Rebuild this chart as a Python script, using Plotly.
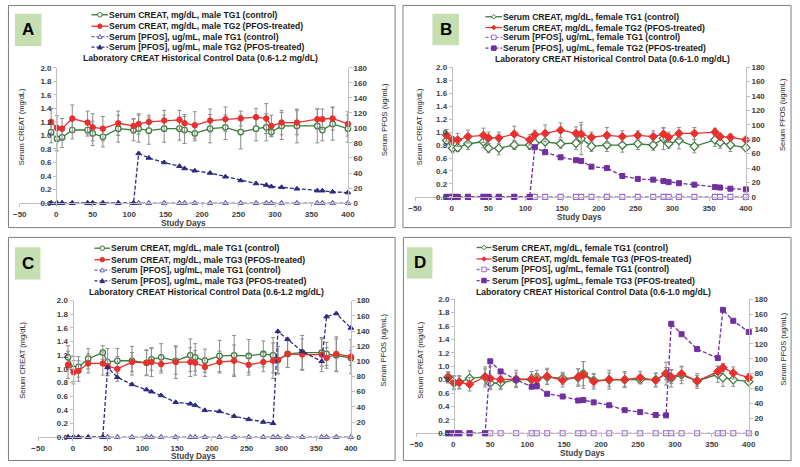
import plotly.graph_objects as go

W, H = 800, 467

days = [-7, 1, 8, 22, 43, 50, 64, 85, 106, 113, 127, 148, 169, 176, 190,
        211, 232, 253, 274, 288, 295, 309, 330, 358, 365, 379, 400]

# ---------------- Panel A (male TG1 vs TG2) ----------------
a_creat_ctrl = [1.05, 0.95, 0.97, 1.08, 1.08, 1.03, 0.98, 1.10, 1.08, 1.10, 1.07, 1.10, 1.10, 1.08, 1.03,
                1.10, 1.12, 1.05, 1.10, 1.12, 1.05, 1.14, 1.14, 1.14, 1.08, 1.17, 1.10]
a_creat_trt = [1.20, 1.11, 1.10, 1.25, 1.19, 1.12, 1.10, 1.18, 1.14, 1.17, 1.20, 1.22, 1.23, 1.18, 1.15,
               1.22, 1.24, 1.25, 1.27, 1.25, 1.14, 1.19, 1.19, 1.24, 1.24, 1.25, 1.17]
a_err_ctrl = [0.16, 0.18, 0.15, 0.13, 0.09, 0.18, 0.15, 0.20, 0.16, 0.20, 0.20, 0.20, 0.17, 0.20, 0.11,
              0.21, 0.18, 0.25, 0.18, 0.20, 0.06, 0.20, 0.25, 0.25, 0.16, 0.24, 0.20]
a_err_trt = [0.20, 0.18, 0.15, 0.20, 0.17, 0.20, 0.18, 0.18, 0.11, 0.15, 0.10, 0.15, 0.14, 0.13, 0.20,
             0.17, 0.18, 0.11, 0.13, 0.22, 0.16, 0.18, 0.18, 0.15, 0.15, 0.17, 0.18]
a_pfos_ctrl = [0, 0, 0, 0, 0, 0, 0, 0, 0, 0, 0, 0, 0, 0, 0, 0, 0, 0, 0, 0, 0, 0, 0, 0, 0, 0, 0]
a_pfos_trt = [0, 0, 0, 0, 0, 0, 0, 0, 0, 66, 60, 54, 49, 46, 43, 40, 35, 30, 26, 24, 22, 21, 19,
              16.5, 16.5, 15, 14]

# ---------------- Panel B (female TG1 vs TG2) ----------------
b_creat_ctrl = [0.87, 0.75, 0.76, 0.82, 0.85, 0.75, 0.75, 0.80, 0.80, 0.83, 0.85, 0.82, 0.83, 0.90, 0.78,
                0.80, 0.80, 0.82, 0.80, 0.90, 0.82, 0.87, 0.78, 0.88, 0.84, 0.80, 0.76]
b_creat_trt = [0.95, 0.88, 0.88, 0.93, 0.95, 0.91, 0.91, 0.97, 0.88, 0.96, 0.98, 1.03, 0.98, 0.97, 0.92,
               0.95, 0.93, 0.95, 0.93, 0.97, 0.92, 0.98, 0.98, 1.00, 0.93, 0.92, 0.88]
b_err_ctrl = [0.07, 0.07, 0.06, 0.09, 0.09, 0.07, 0.10, 0.07, 0.07, 0.07, 0.12, 0.07, 0.10, 0.25, 0.08,
              0.10, 0.11, 0.09, 0.08, 0.17, 0.07, 0.13, 0.10, 0.10, 0.09, 0.10, 0.03]
b_err_trt = [0.09, 0.05, 0.10, 0.10, 0.11, 0.09, 0.09, 0.12, 0.08, 0.07, 0.13, 0.11, 0.10, 0.14, 0.08,
             0.12, 0.09, 0.07, 0.09, 0.09, 0.08, 0.09, 0.09, 0.06, 0.05, 0.05, 0.03]
b_pfos_ctrl = [0, 0, 0, 0, 0, 0, 0, 0, 0, 0, 0, 0, 0, 0, 0, 0, 0, 0, 0, 0, 0, 0, 0, 0, 0, 0, 0]
b_pfos_trt = [0, 0, 0, 0, 0, 0, 0, 0, 0, 69, 62, 55, 51, 50, 42, 40, 29, 25, 24, 22, 20.5, 19, 17,
              13.6, 13, 11.4, 10.5]

# ---------------- Panel C (male TG1 vs TG3) ----------------
c_creat_ctrl = [1.17, 1.00, 1.03, 1.15, 1.24, 1.10, 1.12, 1.12, 1.09, 1.14, 1.17, 1.12, 1.20, 1.17, 1.12,
                1.19, 1.20, 1.19, 1.22, 1.20, 1.13, 1.22, 1.24, 1.24, 1.22, 1.20, 1.16]
c_creat_trt = [1.06, 0.95, 0.97, 1.08, 1.08, 1.04, 1.00, 1.10, 1.09, 1.10, 1.07, 1.10, 1.10, 1.09, 1.03,
               1.10, 1.12, 1.06, 1.10, 1.12, 1.13, 1.22, 1.21, 1.21, 1.16, 1.22, 1.18]
c_err_ctrl = [0.17, 0.18, 0.15, 0.15, 0.10, 0.20, 0.18, 0.21, 0.19, 0.16, 0.20, 0.20, 0.24, 0.20, 0.17,
              0.23, 0.29, 0.24, 0.19, 0.26, 0.20, 0.20, 0.25, 0.20, 0.17, 0.24, 0.11]
c_err_trt = [0.20, 0.17, 0.15, 0.14, 0.17, 0.10, 0.18, 0.14, 0.18, 0.21, 0.13, 0.24, 0.21, 0.18, 0.14,
             0.16, 0.23, 0.15, 0.14, 0.26, 0.20, 0.20, 0.23, 0.25, 0.15, 0.25, 0.25]
c_pfos_ctrl = [0, 0, 0, 0, 0, 0, 0, 0, 0, 0, 0, 0, 0, 0, 0, 0, 0, 0, 0, 0, 0, 0, 0, 0, 0, 0, 0]
c_pfos_trt = [0, 0, 0, 0, 0, 92, 79, 69.5, 62.7, 60, 55, 46, 44, 42, 35.4, 34, 27.7, 23.5, 20, 18.3,
              139.5, 129, 113, 100, 159, 163, 144]

# ---------------- Panel D (female TG1 vs TG3) ----------------
d_creat_ctrl = [0.84, 0.75, 0.76, 0.82, 0.84, 0.75, 0.75, 0.80, 0.80, 0.83, 0.84, 0.82, 0.83, 0.89, 0.79,
                0.80, 0.80, 0.80, 0.80, 0.89, 0.82, 0.87, 0.78, 0.88, 0.83, 0.80, 0.77]
d_creat_trt = [0.83, 0.76, 0.76, 0.73, 0.84, 0.82, 0.80, 0.81, 0.81, 0.80, 0.85, 0.79, 0.84, 0.87, 0.77,
               0.80, 0.80, 0.83, 0.79, 0.89, 0.84, 0.89, 0.78, 0.92, 0.98, 0.90, 0.83]
d_err_ctrl = [0.08, 0.10, 0.09, 0.11, 0.12, 0.08, 0.10, 0.10, 0.08, 0.06, 0.11, 0.09, 0.13, 0.18, 0.10,
              0.10, 0.10, 0.06, 0.10, 0.09, 0.13, 0.13, 0.08, 0.12, 0.13, 0.10, 0.03]
d_err_trt = [0.08, 0.10, 0.10, 0.10, 0.15, 0.17, 0.13, 0.13, 0.11, 0.14, 0.12, 0.10, 0.12, 0.20, 0.11,
             0.14, 0.12, 0.09, 0.10, 0.17, 0.10, 0.10, 0.11, 0.08, 0.06, 0.09, 0.06]
d_pfos_ctrl = [0, 0, 0, 0, 0, 0, 0, 0, 0, 0, 0, 0, 0, 0, 0, 0, 0, 0, 0, 0, 0, 0, 0, 0, 0, 0, 0]
d_pfos_trt = [0, 0, 0, 0, 0, 96.6, 83, 72, 62.5, 63.4, 53, 49.4, 44, 44.6, 41.5, 37.6, 31, 28.4, 24.5,
              24, 147, 133, 113, 101, 165.7, 151, 136]

x_ticks = [-50, 0, 50, 100, 150, 200, 250, 300, 350, 400]
creat_ticks = [0.0, 0.2, 0.4, 0.6, 0.8, 1.0, 1.2, 1.4, 1.6, 1.8, 2.0]
pfos_ticks = [0, 20, 40, 60, 80, 100, 120, 140, 160, 180]

FONT = "Liberation Sans"
GREEN = "#3B7A3B"
RED = "#E8312F"
GRAY_AX = "#BFBFBF"
TICKC = "#404040"
ERRC = "#8C8C8C"


def fx(p):
    return p / W


def fy(p):
    return 1 - p / H


panels = [
    dict(letter="A", lab="0.6-1.2",
         plot=(13, 347, 65, 203), x0=50, box=(1.5, 1.5, 395, 228), lbox=(8, 10, 35, 43),
         leg_y=[11, 22.7, 33.3, 44], leg_lx=(86, 103), lab_xy=(77, 55),
         xt_xy=(180, 224), yl_xy=(15, 125), yr_xy=(384, 118),
         ctrl=a_creat_ctrl, trt=a_creat_trt, ectrl=a_err_ctrl, etrt=a_err_trt,
         pctrl=a_pfos_ctrl, ptrt=a_pfos_trt, kind="tri",
         names=["Serum CREAT, mg/dL, male TG1 (control)", "Serum CREAT, mg/dL, male TG2 (PFOS-treated)",
                "Serum [PFOS], ug/mL, male TG1 (control)", "Serum [PFOS], ug/mL, male TG2 (PFOS-treated)"]),
    dict(letter="B", lab="0.6-1.0",
         plot=(415.3, 752, 64.5, 196.7), x0=452.7, box=(403, 1.5, 798, 228), lbox=(433, 10, 460, 42),
         leg_y=[13, 24, 34, 45], leg_lx=(487, 504), lab_xy=(497, 56),
         xt_xy=(583, 217.5), yl_xy=(420, 125), yr_xy=(790, 113),
         ctrl=b_creat_ctrl, trt=b_creat_trt, ectrl=b_err_ctrl, etrt=b_err_trt,
         pctrl=b_pfos_ctrl, ptrt=b_pfos_trt, kind="sq",
         names=["Serum CREAT, mg/dL, female TG1 (control)", "Serum CREAT, mg/dL, female TG2 (PFOS-treated)",
                "Serum [PFOS], ug/mL, female TG1 (control)", "Serum [PFOS], ug/mL, female TG2 (PFOS-treated)"]),
    dict(letter="C", lab="0.6-1.2",
         plot=(31.7, 350, 302.5, 441.7), x0=66.7, box=(1.5, 238, 395, 465.5), lbox=(8, 248, 34, 281),
         leg_y=[249, 260.7, 271.3, 282.3], leg_lx=(89, 105), lab_xy=(83, 293.3),
         xt_xy=(190, 461), yl_xy=(15, 363), yr_xy=(383, 353),
         ctrl=c_creat_ctrl, trt=c_creat_trt, ectrl=c_err_ctrl, etrt=c_err_trt,
         pctrl=c_pfos_ctrl, ptrt=c_pfos_trt, kind="tri",
         names=["Serum CREAT, mg/dL, male TG1 (control)", "Serum CREAT, mg/dL, male TG3 (PFOS-treated)",
                "Serum [PFOS], ug/mL, male TG1 (control)", "Serum [PFOS], ug/mL, male TG3 (PFOS-treated)"]),
    dict(letter="D", lab="0.6-1.0",
         plot=(416.7, 755, 301, 437.7), x0=455, box=(403.5, 238, 798, 465.5), lbox=(407, 248, 433, 280),
         leg_y=[248.3, 260, 270.7, 282], leg_lx=(478, 493), lab_xy=(477, 293.3),
         xt_xy=(586, 458.5), yl_xy=(420, 363), yr_xy=(790, 352),
         ctrl=d_creat_ctrl, trt=d_creat_trt, ectrl=d_err_ctrl, etrt=d_err_trt,
         pctrl=d_pfos_ctrl, ptrt=d_pfos_trt, kind="sq",
         names=["Serum CREAT, mg/dL, female TG1 (control)", "Serum CREAT, mg/dL female TG3 (PFOS-treated)",
                "Serum [PFOS], ug/mL, female TG1 (control)", "Serum [PFOS], ug/mL, female TG3 (PFOS-treated)"]),
]

fig = go.Figure()
shapes = []
annotations = []
layout_axes = {}


def marker_shape(sym, cx, cy, color, filled, r=2.8):
    fill = color if filled else "white"
    base = dict(xref="paper", yref="paper", fillcolor=fill, line=dict(color=color, width=1))
    if sym == "circle":
        return dict(type="circle", x0=fx(cx - r), x1=fx(cx + r), y0=fy(cy + r), y1=fy(cy - r), **base)
    if sym == "square":
        return dict(type="rect", x0=fx(cx - r), x1=fx(cx + r), y0=fy(cy + r), y1=fy(cy - r), **base)
    if sym == "triangle":
        p = "M {},{} L {},{} L {},{} Z".format(fx(cx - r), fy(cy + r * 0.8), fx(cx + r), fy(cy + r * 0.8),
                                               fx(cx), fy(cy - r))
        return dict(type="path", path=p, **base)
    if sym == "diamond":
        p = "M {},{} L {},{} L {},{} L {},{} Z".format(fx(cx - r), fy(cy), fx(cx), fy(cy - r),
                                                       fx(cx + r), fy(cy), fx(cx), fy(cy + r))
        return dict(type="path", path=p, **base)


def ann(text, x, y, size, color, bold=False, xanchor="left", angle=0):
    font = dict(family=FONT, size=size, color=color)
    if bold:
        font["weight"] = "bold"
    return dict(text=text, xref="paper", yref="paper", x=fx(x), y=fy(y), showarrow=False,
                xanchor=xanchor, yanchor="middle", textangle=angle, borderpad=0, borderwidth=0, font=font)


for i, P in enumerate(panels):
    n = i + 1
    xa = "xaxis" if n == 1 else "xaxis%d" % n
    yl_i = 2 * i + 1
    yr_i = 2 * i + 2
    yla = "yaxis" if yl_i == 1 else "yaxis%d" % yl_i
    yra = "yaxis%d" % yr_i
    xref = "x" if n == 1 else "x%d" % n
    ylref = "y" if yl_i == 1 else "y%d" % yl_i
    yrref = "y%d" % yr_i

    xl, xr, yt, yb = P["plot"]
    tickfont = dict(family=FONT, size=8, color=TICKC, weight="bold")
    layout_axes[xa] = dict(domain=[fx(xl), fx(xr)], range=[-50, 400], tickvals=x_ticks,
                           showline=True, linecolor=GRAY_AX, linewidth=1, ticks="outside", ticklen=3,
                           tickcolor=GRAY_AX, showgrid=False, zeroline=False, tickfont=tickfont,
                           anchor=ylref)
    layout_axes[yla] = dict(domain=[fy(yb), fy(yt)], range=[0, 2.0], tickvals=creat_ticks, tickformat=".1f",
                            anchor="free", position=fx(P["x0"]), showline=True, linecolor=GRAY_AX,
                            ticks="outside", ticklen=3, tickcolor=GRAY_AX, showgrid=False, zeroline=False,
                            tickfont=tickfont)
    layout_axes[yra] = dict(domain=[fy(yb), fy(yt)], range=[0, 180], tickvals=pfos_ticks,
                            overlaying=ylref, side="right", anchor=xref, showline=True, linecolor=GRAY_AX,
                            ticks="outside", ticklen=3, tickcolor=GRAY_AX, showgrid=False, zeroline=False,
                            tickfont=tickfont)

    if P["kind"] == "tri":
        cmark, tmark = "circle", "circle"
        pc_col, pt_col = "#6B5FB5", "#2E2B7F"
        psym = "triangle-up"
        lsym_c, lsym_p = "circle", "triangle"
        csize = 5.5
    else:
        cmark, tmark = "diamond", "diamond"
        pc_col, pt_col = "#9B6BCB", "#7030A0"
        psym = "square"
        lsym_c, lsym_p = "diamond", "square"
        csize = 6.5

    err = dict(type="data", visible=True, color=ERRC, thickness=1, width=2)
    fig.add_trace(go.Scatter(x=days, y=P["ctrl"], xaxis=xref, yaxis=ylref, mode="lines+markers",
                             name=P["names"][0], showlegend=False, cliponaxis=False,
                             line=dict(color=GREEN, width=1.3),
                             marker=dict(symbol=cmark, size=csize, color="white",
                                         line=dict(color=GREEN, width=1.2)),
                             error_y=dict(array=P["ectrl"], **err)))
    fig.add_trace(go.Scatter(x=days, y=P["trt"], xaxis=xref, yaxis=ylref, mode="lines+markers",
                             name=P["names"][1], showlegend=False, cliponaxis=False,
                             line=dict(color=RED, width=1.3),
                             marker=dict(symbol=tmark, size=csize, color=RED, line=dict(color=RED, width=1)),
                             error_y=dict(array=P["etrt"], **err)))
    fig.add_trace(go.Scatter(x=days, y=P["pctrl"], xaxis=xref, yaxis=yrref, mode="lines+markers",
                             name=P["names"][2], showlegend=False, cliponaxis=False,
                             line=dict(color=pc_col, width=1.2, dash="4px,2px"),
                             marker=dict(symbol=psym, size=5, color="white",
                                         line=dict(color=pc_col, width=1.1))))
    fig.add_trace(go.Scatter(x=days, y=P["ptrt"], xaxis=xref, yaxis=yrref, mode="lines+markers",
                             name=P["names"][3], showlegend=False, cliponaxis=False,
                             line=dict(color=pt_col, width=1.3, dash="4px,2px"),
                             marker=dict(symbol=psym, size=5, color=pt_col,
                                         line=dict(color=pt_col, width=1))))

    # panel border and label box
    bx0, by0, bx1, by1 = P["box"]
    shapes.append(dict(type="rect", xref="paper", yref="paper", x0=fx(bx0), x1=fx(bx1), y0=fy(by1), y1=fy(by0),
                       line=dict(color="#7F7F7F", width=1), fillcolor="rgba(0,0,0,0)", layer="below"))
    lx0, ly0, lx1, ly1 = P["lbox"]
    shapes.append(dict(type="rect", xref="paper", yref="paper", x0=fx(lx0), x1=fx(lx1), y0=fy(ly1), y1=fy(ly0),
                       line=dict(width=0), fillcolor="#C5DFB1", layer="below"))
    annotations.append(ann(P["letter"], (lx0 + lx1) / 2, (ly0 + ly1) / 2, 17, "black", bold=True,
                           xanchor="center"))

    # legend
    colors = [GREEN, RED, pc_col, pt_col]
    dashes = ["solid", "solid", "3px,2px", "3px,2px"]
    syms = [lsym_c, lsym_c, lsym_p, lsym_p]
    fills = [False, True, False, True]
    s0, s1 = P["leg_lx"]
    for k in range(4):
        yy = P["leg_y"][k]
        shapes.append(dict(type="line", xref="paper", yref="paper", x0=fx(s0), x1=fx(s1), y0=fy(yy), y1=fy(yy),
                           line=dict(color=colors[k], width=1.3, dash=dashes[k])))
        shapes.append(marker_shape(syms[k], (s0 + s1) / 2, yy, colors[k], fills[k], r=2.3))
        annotations.append(ann(P["names"][k], s1 + 0.5, yy, 8.6, "#1A1A1A", bold=True))
    annotations.append(ann("Laboratory CREAT Historical Control Data (%s mg/dL)" % P["lab"],
                           P["lab_xy"][0], P["lab_xy"][1], 8.6, "#1A1A1A", bold=True))
    # axis titles
    annotations.append(ann("Study Days", P["xt_xy"][0], P["xt_xy"][1], 8.2, TICKC, bold=True,
                           xanchor="center"))
    annotations.append(ann("Serum CREAT (mg/dL)", P["yl_xy"][0], P["yl_xy"][1], 7.5, "#262626",
                           xanchor="center", angle=-90))
    annotations.append(ann("Serum PFOS (ug/mL)", P["yr_xy"][0], P["yr_xy"][1], 7.5, "#262626",
                           xanchor="center", angle=-90))

fig.update_layout(width=W, height=H, margin=dict(l=0, r=0, t=0, b=0),
                  paper_bgcolor="white", plot_bgcolor="rgba(0,0,0,0)",
                  showlegend=False, shapes=shapes, annotations=annotations,
                  font=dict(family=FONT), **layout_axes)

fig.write_html("out.html", config={"displayModeBar": False},
               post_script="document.body.style.margin='0';document.body.style.padding='0';"
                           "document.body.style.overflow='hidden';")
